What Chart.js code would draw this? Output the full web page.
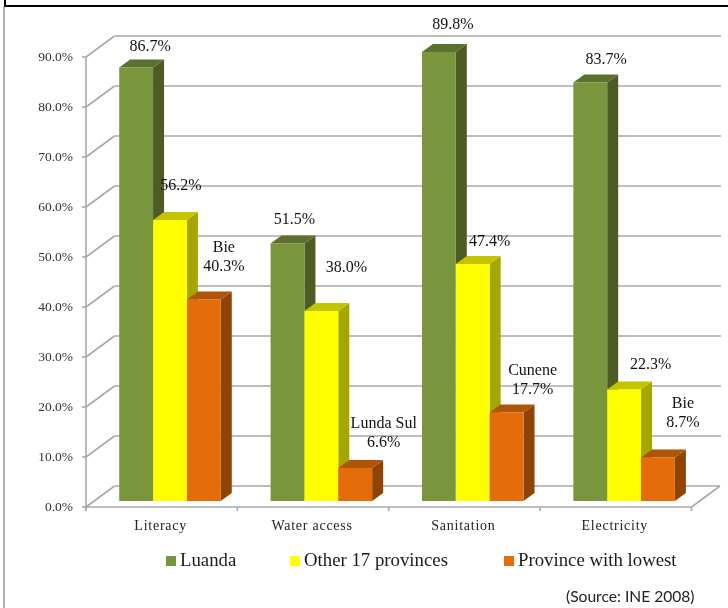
<!DOCTYPE html>
<html>
<head>
<meta charset="utf-8">
<title>Access indicators by province</title>
<style>
    html, body { margin: 0; padding: 0; background: #fff; }
    #wrap { position: relative; width: 728px; height: 608px; overflow: hidden; }
    canvas { position: absolute; left: 0; top: 0; }
    .frame { position: absolute; }
    .legend-item {
        position: absolute; top: 549px; height: 24px; line-height: 24px; white-space: nowrap;
        font: 18.8px "Liberation Serif", serif; color: #1a1a1a;
    }
    .legend-item i { display: inline-block; width: 10px; height: 10px; margin-right: 4px; }
    #source {
        position: absolute; left: 566px; top: 587px; white-space: nowrap;
        font: 15.6px Lato, sans-serif; color: #222;
    }
</style>
</head>
<body>
<div id="wrap">
    <canvas id="chart" width="728" height="608"></canvas>
    <div class="frame" style="left:3px;top:7px;width:2px;height:601px;background:#b0b0b0"></div>
    <div class="frame" style="left:4px;top:0;width:2px;height:7px;background:#000"></div>
    <div class="frame" style="left:4px;top:5px;width:724px;height:2px;background:#000"></div>
    <div id="legend"></div>
    <div id="source">(Source: INE 2008)</div>
</div>
<script src="https://cdn.jsdelivr.net/npm/chart.js@4/dist/chart.umd.min.js"></script>
<script>
const categories = ['Literacy', 'Water access', 'Sanitation', 'Electricity'];
const seriesNames = ['Luanda', 'Other 17 provinces', 'Province with lowest'];
const luanda = [86.7, 51.5, 89.8, 83.7];
const otherProvinces = [56.2, 38.0, 47.4, 22.3];
const lowestProvince = [40.3, 6.6, 17.7, 8.7];
const lowestNames = ['Bie', 'Lunda Sul', 'Cunene', 'Bie'];
const yTicks = [0, 10, 20, 30, 40, 50, 60, 70, 80, 90];

// colours per series: front, side, top
const faces = [
    { front: '#7a963d', side: '#4c5c24', top: '#5d702e' },
    { front: '#ffff00', side: '#a6a600', top: '#c4c400' },
    { front: '#e46c0a', side: '#8f4304', top: '#b05408' }
];

// room depth of the fake 3D box, and how far bars sit inside it
const wallX = 28.5, wallY = 21;
const barShiftX = 8.3, barShiftY = 6;
const barDepthX = 11, barDepthY = 8;

// label nudges from the top centre of each bar's front face, [dx, dy] by series then category
const labelNudge = [
    [[14, -20.5], [7, -23.5], [14, -27], [16, -22.5]],
    [[11, -34], [25, -43], [17, -22], [26.5, -24.5]],
    [[20, -51.5], [28.5, -44], [26, -41.5], [25, -53.5]]
];

function line(ctx, x1, y1, x2, y2) {
    ctx.beginPath();
    ctx.moveTo(x1, y1);
    ctx.lineTo(x2, y2);
    ctx.stroke();
}

function poly(ctx, color, pts) {
    ctx.fillStyle = color;
    ctx.beginPath();
    pts.forEach((p, i) => i ? ctx.lineTo(p[0], p[1]) : ctx.moveTo(p[0], p[1]));
    ctx.closePath();
    ctx.fill();
}

const box3d = {
    id: 'box3d',
    beforeDatasetsDraw(chart) {
        const { ctx, chartArea: area, scales: { x, y } } = chart;
        ctx.save();
        ctx.strokeStyle = '#a8a8a8';
        ctx.lineWidth = 1.6;
        yTicks.forEach(v => {
            const py = y.getPixelForValue(v);
            line(ctx, area.left - 4, py, area.left, py);
            line(ctx, area.left, py, area.left + wallX, py - wallY);
            line(ctx, area.left + wallX, py - wallY, area.right + wallX + (v ? 1 : 0), py - wallY);
        });
        const floor = y.getPixelForValue(0);
        line(ctx, area.left, y.getPixelForValue(90), area.left, floor + 4);
        line(ctx, area.left, floor, area.right, floor);
        line(ctx, area.right, floor, area.right + wallX, floor - wallY);
        for (let i = 0; i <= categories.length; i++) {
            const px = area.left + (area.right - area.left) * i / categories.length;
            line(ctx, px, floor, px, floor + 4);
        }
        // category names
        ctx.letterSpacing = '0.75px';
        ctx.font = '14px "Liberation Serif", serif';
        ctx.fillStyle = '#222';
        ctx.textAlign = 'center';
        ctx.textBaseline = 'middle';
        categories.forEach((name, i) => ctx.fillText(name, x.getPixelForTick(i) - 1, floor + 19));
        ctx.restore();
    },
    // bars go left to right so each one overlaps its neighbour's side face
    beforeDatasetDraw() {
        return false;
    },
    afterDatasetsDraw(chart) {
        const { ctx } = chart;
        ctx.save();
        ctx.translate(barShiftX, -barShiftY);
        [0, 1, 2].forEach(ds => {
            chart.getDatasetMeta(ds).data.forEach(bar => {
                const { x, y, base, width } = bar.getProps(['x', 'y', 'base', 'width'], true);
                const l = x - width / 2, r = x + width / 2;
                poly(ctx, faces[ds].side, [[r, y], [r + barDepthX, y - barDepthY], [r + barDepthX, base - barDepthY], [r, base]]);
                poly(ctx, faces[ds].top, [[l, y], [l + barDepthX, y - barDepthY], [r + barDepthX, y - barDepthY], [r, y]]);
                bar.draw(ctx);
            });
        });
        ctx.restore();

        ctx.save();
        ctx.font = '16px "Liberation Serif", serif';
        ctx.fillStyle = '#111';
        ctx.textAlign = 'center';
        ctx.textBaseline = 'middle';
        [0, 1, 2].forEach(ds => {
            chart.getDatasetMeta(ds).data.forEach((bar, i) => {
                const value = chart.data.datasets[ds].data[i];
                const [dx, dy] = labelNudge[ds][i];
                const lx = bar.x + barShiftX + dx, ly = bar.y - barShiftY + dy;
                if (ds === 2) {
                    ctx.fillText(lowestNames[i], lx, ly);
                    ctx.fillText(value.toFixed(1) + '%', lx, ly + 19);
                } else {
                    ctx.fillText(value.toFixed(1) + '%', lx, ly);
                }
            });
        });
        ctx.restore();
    }
};

new Chart(document.getElementById('chart'), {
    type: 'bar',
    data: {
        labels: categories,
        datasets: [luanda, otherProvinces, lowestProvince].map((data, i) => ({
            label: seriesNames[i],
            data: data,
            backgroundColor: faces[i].front,
            barPercentage: 1,
            categoryPercentage: 0.671
        }))
    },
    options: {
        responsive: false,
        animation: false,
        devicePixelRatio: 1,
        layout: { autoPadding: false, padding: { left: 0, top: 57, right: 36.5, bottom: 101 } },
        plugins: { legend: { display: false }, tooltip: { enabled: false } },
        scales: {
            x: {
                grid: { display: false, drawTicks: false },
                border: { display: false },
                ticks: { display: false },
                afterFit(scale) { scale.height = 0; }
            },
            y: {
                min: 0,
                max: 90,
                afterFit(scale) { scale.width = 86; },
                afterBuildTicks(scale) { scale.ticks = yTicks.map(v => ({ value: v })); },
                grid: { display: false, drawTicks: false },
                border: { display: false },
                ticks: {
                    padding: 13,
                    color: '#333',
                    font: { family: '"Liberation Serif", serif', size: 13.5 },
                    callback: v => v.toFixed(1) + '%'
                }
            }
        }
    },
    plugins: [box3d]
});

// legend row under the chart
const legendLeft = [166, 290, 504];
seriesNames.forEach((name, i) => {
    const item = document.createElement('div');
    item.className = 'legend-item';
    item.style.left = legendLeft[i] + 'px';
    item.innerHTML = `<i style="background:${faces[i].front}"></i>${name}`;
    document.getElementById('legend').appendChild(item);
});
</script>
</body>
</html>
